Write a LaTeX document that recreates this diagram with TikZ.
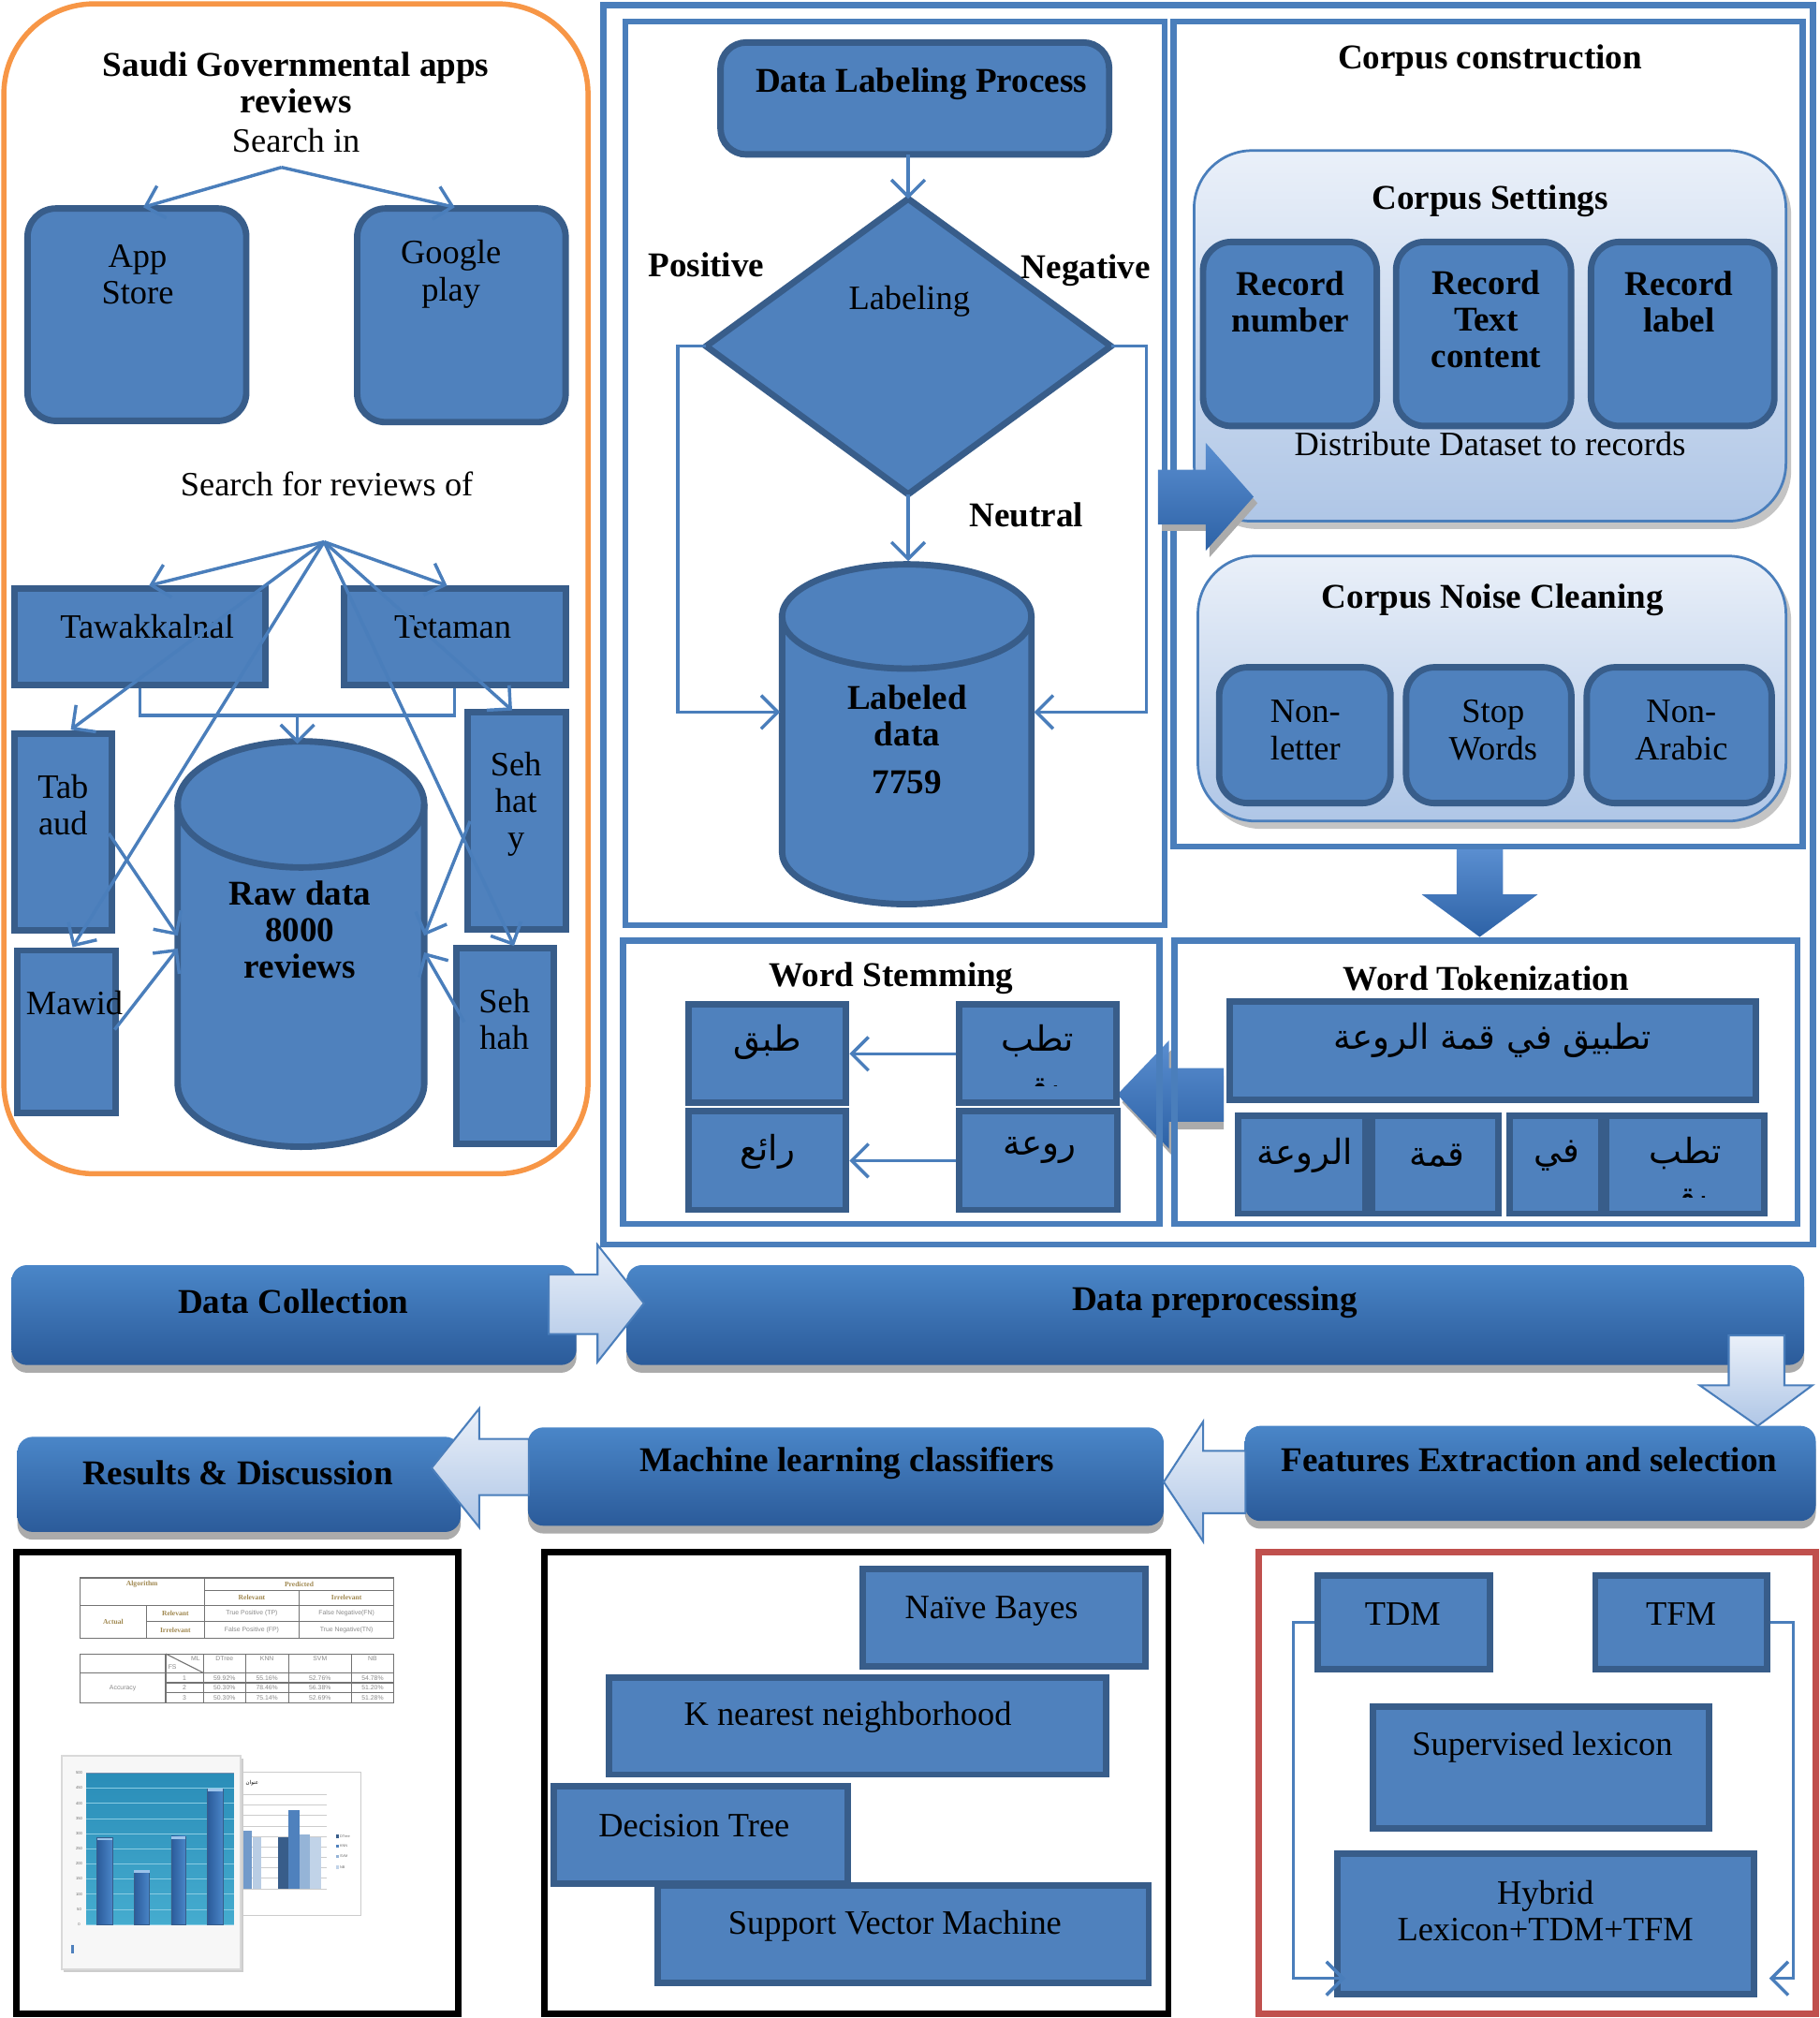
\documentclass[tikz,border=0pt]{standalone}
\usepackage{fontspec}
\setmainfont{Liberation Serif}
\newfontfamily\sansf{Liberation Sans}
\newfontfamily\arabicfont[Script=Arabic]{DejaVu Sans}
\TeXXeTstate=1
\usetikzlibrary{arrows.meta,calc,fit}
\definecolor{bfill}{HTML}{4F81BD}
\definecolor{bdark}{HTML}{385D8A}
\definecolor{bline}{HTML}{4A7EBB}
\definecolor{orng}{HTML}{F79646}
\definecolor{redb}{HTML}{C0504D}
\definecolor{barTop}{HTML}{4A86C8}
\definecolor{barBot}{HTML}{2B5B9A}
\definecolor{lightA}{HTML}{EAF0F9}
\definecolor{lightB}{HTML}{AFC6E6}
\definecolor{darkTop}{HTML}{5A8ED0}
\definecolor{darkBot}{HTML}{2D62A6}
\definecolor{shadc}{HTML}{ABABAB}
\definecolor{tanc}{HTML}{A08850}
\definecolor{tgray}{HTML}{8A8A8A}
\definecolor{plotTop}{HTML}{2A8DB8}
\definecolor{plotBot}{HTML}{45ACCF}
\definecolor{gridc}{HTML}{8ACBE2}
\definecolor{capc}{HTML}{9CC3EA}
\newcommand\drawcyl[5]{%
  \pgfmathsetmacro\cylrx{(#2-#1)/2}%
  \path[draw=bdark, fill=bfill, line width=5pt] (#1,#3) -- (#1,#4)
    arc[start angle=180,end angle=0,x radius=\cylrx,y radius=#5] -- (#2,#3)
    arc[start angle=0,end angle=-180,x radius=\cylrx,y radius=#5] -- cycle;
  \draw[bdark, line width=5pt] (#1,#3) arc[start angle=180,end angle=0,x radius=\cylrx,y radius=#5];
}
\tikzset{
  bx/.style={draw=bdark, fill=bfill, line width=5pt, inner sep=0pt},
  rbx/.style={bx, rounded corners=20pt},
  conn/.style={draw=bline, line width=2.5pt, -{Straight Barb[length=13pt,width=26pt]}},
  pconn/.style={draw=bline, line width=2.5pt},
  txt/.style={align=center, inner sep=0pt, font=\fontsize{26.5}{28.5}\selectfont},
  btxt/.style={align=center, inner sep=0pt, font=\fontsize{27}{28.5}\selectfont\bfseries},
  ar/.style={inner sep=0pt, font=\fontsize{27}{29}\selectfont\arabicfont},
  stage/.style={rounded corners=12pt, top color=barTop, bottom color=barBot},
  larrow/.style={draw=bline, line width=1.5pt, top color=lightA, bottom color=lightB, line join=miter},
  darrow/.style={top color=darkTop, bottom color=darkBot},
  bframe/.style={draw=bline, line width=5pt},
  tb/.style={inner sep=0pt, font=\fontsize{5.5}{6}\selectfont\bfseries, text=tanc},
  tv/.style={inner sep=0pt, font=\fontsize{5}{6}\selectfont\sansf, text=tgray},
  tline/.style={draw=black!55, line width=0.8pt}
}
\begin{document}
\begin{tikzpicture}[x=1pt,y=-1pt]
\useasboundingbox (0,0) rectangle (1414,1568);
\fill[white] (0,0) rectangle (1414,1568);

%%%%%%%% LEFT PANEL: DATA COLLECTION DETAIL
\draw[orng, line width=4pt, rounded corners=70pt] (3,3) rectangle (457,912);
\node[btxt] (title) at (230,64.5) {Saudi Governmental apps\\reviews};
\node[txt] (searchin) at (230,109.5) {Search in};
\coordinate (sinpt) at (218.8,130);
\node[bx, rounded corners=22pt, fit={(21.4,162)(191.4,327)}] (appstore) {};
\node[bx, rounded corners=22pt, fit={(277.6,162)(439.6,328)}] (gplay) {};
\node[txt] (appstoret) at (107,213) {App\\Store};
\node[txt] (gplayt) at (350.5,213) {Google\\play};
\coordinate (asTip) at (111.4,161);
\coordinate (gpTip) at (353.4,161);
\draw[conn] (sinpt) -- (asTip);
\draw[conn] (sinpt) -- (gpTip);

\node[txt] (sfr) at (254,376) {Search for reviews of};
\coordinate (hub) at (251.9,421);
\node[bx, fit={(11.3,457)(206.3,532)}] (tawak) {};
\node[bx, fit={(267.3,457)(439.6,532)}] (tetam) {};
\node[bx, fit={(11.3,570)(86.7,723)}] (tabaud) {};
\node[bx, fit={(13.4,738.5)(89.7,865)}] (mawid) {};
\node[bx, fit={(363.7,553.5)(439.6,722)}] (sehhaty) {};
\node[bx, fit={(354.8,737)(430.6,889)}] (sehhah) {};
\drawcyl{138.1}{329.7}{625}{842}{49}
\node[inner sep=0pt, fit={(138.1,576)(329.7,891)}] (rawdb) {};
\node[txt] (tawakt) at (114.3,487) {Tawakkalnal};
\node[txt] (tetamt) at (351.8,487) {Tetaman};
\node[txt] (tabaudt) at (49,625.6) {Tab\\aud};
\node[txt] (mawidt) at (57.9,779) {Mawid};
\node[txt] (sehhatyt) at (401,624.8) {Seh\\hat\\y};
\node[txt] (sehhaht) at (392,792) {Seh\\hah};
\node[btxt] (rawt) at (233.1,722.5) {Raw data\\8000\\reviews};

\coordinate (tawTip) at (115.8,455);
\coordinate (tetTip) at (347.5,455);
\coordinate (tabTip) at (55,567);
\coordinate (mawTip) at (56.4,736);
\coordinate (shyTip) at (398,552);
\coordinate (shhTip) at (399.4,735);
\draw[conn] (hub) -- (tawTip);
\draw[conn] (hub) -- (tetTip);
\draw[conn] (hub) -- (tabTip);
\draw[conn] (hub) -- (mawTip);
\draw[conn] (hub) -- (shyTip);
\draw[conn] (hub) -- (shhTip);
\draw[pconn] (tawak.south) -- ++(0,21.4) -| (tetam.south);
\coordinate (brM) at ($(tawak.south)!0.5!(tetam.south)+(0,21.4)$);
\draw[conn] (brM) -- ++(0,22);
\coordinate (tabOut) at (84.6,647.6);
\coordinate (rawL1) at (138.1,727);
\coordinate (mawOut) at (89.1,800);
\coordinate (rawL2) at (138.1,737);
\coordinate (shyOut) at (365.3,638);
\coordinate (rawR1) at (329.7,727);
\coordinate (shhOut) at (360.8,794);
\coordinate (rawR2) at (329.7,740);
\draw[conn] (tabOut) -- (rawL1);
\draw[conn] (mawOut) -- (rawL2);
\draw[conn] (shyOut) -- (rawR1);
\draw[conn] (shhOut) -- (rawR2);

%%%%%%%% PREPROCESSING DETAIL
\draw[bframe] (469,4) rectangle (1409,967);
\draw[bframe, line width=4.5pt] (486,17) rectangle (905,719);
\node[rbx, fit={(560,33)(862,120)}] (lbp) {};
\node[btxt] (lbpt) at (716,65) {Data Labeling Process};
\coordinate (lbpOut) at (705.8,120);
\coordinate (dTop) at (705.8,154.5);
\coordinate (dLeft) at (548.8,269);
\coordinate (dRight) at (863.4,269);
\coordinate (dBot) at (705.8,384);
\path[bx] (dTop) -- (dRight) -- (dBot) -- (dLeft) -- cycle;
\node[txt] (labelingt) at (706.7,234) {Labeling};
\node[btxt] (post) at (548.8,205.5) {Positive};
\node[btxt] (negt) at (844,210) {Negative};
\node[btxt] (neut) at (797.6,400) {Neutral};
\drawcyl{607.8}{801.6}{479}{662}{40.5}
\node[inner sep=0pt, fit={(607.8,438.5)(801.6,702.5)}] (labdb) {};
\node[btxt] (labdbt) at (705,556) {Labeled\\data};
\node[btxt] (labdbn) at (705,607.6) {7759};
\coordinate (labL) at (606.3,553.3);
\coordinate (labR) at (803.7,553.3);
\coordinate (labTopIn) at (705.8,436);
\draw[conn] (lbpOut) -- (dTop);
\draw[conn] (dBot) -- (labTopIn);
\draw[conn] (dLeft) -- ++(-22,0) |- (labL);
\draw[conn] (dRight) -- ++(27.6,0) |- (labR);

% corpus construction
\draw[bframe, line width=4.5pt] (912,17) rectangle (1401,658);
\node[btxt] (cct) at (1158,47) {Corpus construction};
\fill[shadc!70, rounded corners=45pt] (932,122) rectangle (1392,411);
\node[fit={(928,117)(1388,405)}, inner sep=0pt, draw=bline, line width=2pt, top color=lightA, bottom color=lightB, rounded corners=45pt] (cset) {};
\node[btxt] (csett) at (1158,156) {Corpus Settings};
\node[rbx, rounded corners=22pt, fit={(935,188)(1070,331)}] (rnum) {};
\node[rbx, rounded corners=22pt, fit={(1085,188)(1221,331)}] (rtext) {};
\node[rbx, rounded corners=22pt, fit={(1236.5,188)(1379,331)}] (rlab) {};
\node[btxt] (rnumt) at (1003,234.3) {Record\\number};
\node[btxt] (rtextt) at (1155,248.2) {Record\\Text\\content};
\node[btxt] (rlabt) at (1305,234.3) {Record\\label};
\node[txt] (distt) at (1158,345) {Distribute Dataset to records};
\fill[shadc!70, rounded corners=45pt] (935,437) rectangle (1392,644);
\node[fit={(931,432)(1388,638)}, inner sep=0pt, draw=bline, line width=2pt, top color=lightA, bottom color=lightB, rounded corners=45pt] (cnoise) {};
\node[btxt] (cnoiset) at (1160,466.5) {Corpus Noise Cleaning};
\node[rbx, rounded corners=22pt, fit={(947.5,518.5)(1080.7,624)}] (nl) {};
\node[rbx, rounded corners=22pt, fit={(1092.8,518.5)(1221.2,624)}] (sw) {};
\node[rbx, rounded corners=22pt, fit={(1233.2,518.5)(1376.9,624)}] (na) {};
\node[txt] (nlt) at (1014.5,567.3) {Non-\\letter};
\node[txt] (swt) at (1160.4,567.3) {Stop\\Words};
\node[txt] (nat) at (1306.7,567.3) {Non-\\Arabic};

% dark block arrows
\fill[shadc] (903,370) -- (940,370) -- (940,349) -- (977.3,391) -- (940,433) -- (940,412.5) -- (903,412.5) -- cycle;
\path[darrow] (900,365) -- (937,365) -- (937,344) -- (974.3,386) -- (937,428) -- (937,407.5) -- (900,407.5) -- cycle;
\path[darrow] (1132,660) -- (1168,660) -- (1168,695) -- (1195,695) -- (1150,728) -- (1105,695) -- (1132,695) -- cycle;
\fill[shadc] (951,836) -- (911.5,836) -- (911.5,814.5) -- (872,856.5) -- (911.5,898.5) -- (911.5,877.5) -- (951,877.5) -- cycle;
\path[darrow] (951,830) -- (908.5,830) -- (908.5,808.5) -- (868.3,850.5) -- (908.5,892.5) -- (908.5,871.5) -- (951,871.5) -- cycle;

% word tokenization
\draw[bframe] (913,731) rectangle (1397,951);
\node[btxt] (wtt) at (1155,760) {Word Tokenization};
\node[bx, fit={(955.7,778.2)(1364.8,854.5)}] (sent) {};
\node[ar] (sentt) at (1160,808.5) {\beginR تطبيق في قمة الروعة\endR};
\node[bx, fit={(962.2,866.7)(1061.1,943)}] (tk1) {};
\node[bx, fit={(1066,866.7)(1164.6,943)}] (tk2) {};
\node[bx, fit={(1173.4,866.7)(1244.6,943)}] (tk3) {};
\node[bx, fit={(1248.5,866.7)(1371.3,943)}] (tk4) {};
\node[ar] (tk1t) at (1014,898) {\beginR الروعة\endR};
\node[ar] (tk2t) at (1117,898) {\beginR قمة\endR};
\node[ar] (tk3t) at (1210,898) {\beginR في\endR};
\node[ar] (tk4t) at (1309.9,896) {\beginR تطب\endR};
\begin{scope}
\clip (1252,914) rectangle (1368,930);
\node[ar] (tk4b) at (1313,934) {\beginR يق\endR};
\end{scope}

% word stemming
\draw[bframe] (484,731) rectangle (901,951);
\node[btxt] (wst) at (692.8,760) {Word Stemming};
\node[bx, fit={(535.2,780.6)(657.7,857)}] (s1) {};
\node[bx, fit={(745.2,780.6)(867.7,857)}] (s2) {};
\node[bx, fit={(535.2,863.5)(657.7,940.1)}] (s3) {};
\node[bx, fit={(745.2,863.5)(868.3,940.1)}] (s4) {};
\node[ar] (s1t) at (596.5,810) {\beginR طبق\endR};
\node[ar] (s2t) at (806.4,809) {\beginR تطب\endR};
\begin{scope}
\clip (748,828) rectangle (865,844);
\node[ar] (s2b) at (809,848) {\beginR يق\endR};
\end{scope}
\node[ar] (s3t) at (596.5,894.8) {\beginR رائع\endR};
\node[ar] (s4t) at (807.9,893.5) {\beginR روعة\endR};
\draw[conn] (s2.west) -- (s1.east);
\draw[conn] (s4.west) -- (s3.east);

%%%%%%%% STAGE BARS
\fill[shadc, rounded corners=12pt] (9,989) rectangle (448,1066.6);
\node[stage, inner sep=0pt, fit={(9,983)(448,1060.6)}] (dcol) {};
\node[btxt] (dcolt) at (228,1011) {Data Collection};
\fill[shadc, rounded corners=12pt] (486.9,989) rectangle (1402.2,1066.6);
\node[stage, inner sep=0pt, fit={(486.9,983)(1402.2,1060.6)}] (dpre) {};
\node[btxt] (dpret) at (944,1012) {Data preprocessing};
\fill[shadc, rounded corners=12pt] (967.5,1113.9) rectangle (1411.2,1187.8);
\node[stage, inner sep=0pt, fit={(967.5,1107.9)(1411.2,1181.8)}] (fext) {};
\node[btxt] (fextt) at (1188.5,1134.5) {Features Extraction and selection};
\fill[shadc, rounded corners=12pt] (410.3,1115.1) rectangle (904.4,1191.5);
\node[stage, inner sep=0pt, fit={(410.3,1109.1)(904.4,1185.5)}] (mlc) {};
\node[btxt] (mlct) at (658.3,1137) {Machine learning classifiers};
\fill[shadc, rounded corners=12pt] (13.5,1122.4) rectangle (358,1196.3);
\node[stage, inner sep=0pt, fit={(13.5,1116.4)(358,1190.3)}] (resd) {};
\node[btxt] (resdt) at (184.9,1144.2) {Results \& Discussion};

% light arrows
\path[larrow] (426.5,990.3) -- (464.4,990.3) -- (464.4,967.3) -- (500.5,1012.7) -- (464.4,1058.2) -- (464.4,1036.6) -- (426.5,1036.6) -- cycle;
\path[larrow] (1343.5,1037.6) -- (1386.8,1037.6) -- (1386.8,1076.4) -- (1408.5,1076.4) -- (1366,1108) -- (1321,1076.4) -- (1343.5,1076.4) -- cycle;
\path[larrow] (968,1127.3) -- (935,1127.3) -- (935,1104.7) -- (904.4,1151.5) -- (935,1197.6) -- (935,1175.8) -- (968,1175.8) -- cycle;
\path[larrow] (411,1118) -- (372.4,1118) -- (372.4,1094.5) -- (335.4,1140.6) -- (372.4,1186.7) -- (372.4,1161.7) -- (411,1161.7) -- cycle;

%%%%%%%% RESULTS BOX
\draw[black, line width=5pt] (13,1206) rectangle (356,1565);
% table 1
\draw[tline] (62,1226) rectangle (306,1273);
\draw[tline] (158.9,1235.7) -- (306,1235.7);
\draw[tline] (62,1247.4) -- (306,1247.4);
\draw[tline] (113.8,1259.8) -- (306,1259.8);
\draw[tline] (113.8,1247.4) -- (113.8,1273);
\draw[tline] (158.9,1226) -- (158.9,1273);
\draw[tline] (232.6,1235.7) -- (232.6,1273);
\node[tb] (t1a) at (110.4,1231) {Algorithm};
\node[tb] (t1b) at (232.5,1230.8) {Predicted};
\node[tb] (t1c) at (195.7,1241.5) {Relevant};
\node[tb] (t1d) at (269.3,1241.5) {Irrelevant};
\node[tb] (t1e) at (88,1260.2) {Actual};
\node[tb] (t1f) at (136.3,1253.6) {Relevant};
\node[tb] (t1g) at (136.3,1266.4) {Irrelevant};
\node[tv] (t1h) at (195.7,1253.6) {True Positive (TP)};
\node[tv] (t1i) at (269.3,1253.6) {False Negative(FN)};
\node[tv] (t1j) at (195.7,1266.4) {False Positive (FP)};
\node[tv] (t1k) at (269.3,1266.4) {True Negative(TN)};
% table 2
\draw[tline] (62,1285) rectangle (306,1323);
\draw[tline] (62,1299.8) -- (306,1299.8);
\draw[tline] (128.8,1307.5) -- (306,1307.5);
\draw[tline] (128.8,1315.4) -- (306,1315.4);
\foreach \xx in {128.8,158.1,190.9,224.2,273.2} \draw[tline] (\xx,1285) -- (\xx,1323);
\draw[tline] (128.8,1285) -- (158.1,1299.8);
\node[tv] (t2ml) at (152,1288.5) {ML};
\node[tv] (t2fs) at (134,1295.5) {FS};
\node[tv] (t2h1) at (174.5,1289) {DTree};
\node[tv] (t2h2) at (207.5,1289) {KNN};
\node[tv] (t2h3) at (248.7,1289) {SVM};
\node[tv] (t2h4) at (289.6,1289) {NB};
\node[tv] (t2acc) at (95.4,1311.4) {Accuracy};
\node[tv] (t2r1) at (143.4,1303.6) {1};
\node[tv] (t2r2) at (143.4,1311.4) {2};
\node[tv] (t2r3) at (143.4,1319.2) {3};
\node[tv] (v11) at (174.5,1303.6) {59.92\%};
\node[tv] (v12) at (207.5,1303.6) {55.16\%};
\node[tv] (v13) at (248.7,1303.6) {52.76\%};
\node[tv] (v14) at (289.6,1303.6) {54.78\%};
\node[tv] (v21) at (174.5,1311.4) {50.30\%};
\node[tv] (v22) at (207.5,1311.4) {78.46\%};
\node[tv] (v23) at (248.7,1311.4) {56.38\%};
\node[tv] (v24) at (289.6,1311.4) {51.20\%};
\node[tv] (v31) at (174.5,1319.2) {50.30\%};
\node[tv] (v32) at (207.5,1319.2) {75.14\%};
\node[tv] (v33) at (248.7,1319.2) {52.69\%};
\node[tv] (v34) at (289.6,1319.2) {51.28\%};
% chart 2
\path[draw=black!20, line width=0.8pt, fill=white] (187,1377) rectangle (280.6,1488.5);
\foreach \i in {0,...,9} \draw[black!20, line width=0.5pt] (189,{1394.4+\i*8.13}) -- (254.2,{1394.4+\i*8.13});
\fill[bfill!80] (189.4,1422.7) rectangle (195.4,1467.6);
\fill[bfill!40] (196.1,1427.5) rectangle (202.8,1467.6);
\fill[bdark] (215.8,1427.5) rectangle (224.2,1467.6);
\fill[bfill] (224.2,1406.4) rectangle (232.6,1467.6);
\fill[bfill!60] (232.6,1425.1) rectangle (241,1467.6);
\fill[bfill!35] (241,1427.5) rectangle (249.4,1467.6);
\node[inner sep=0pt, font=\fontsize{4}{4}\selectfont\arabicfont] (c2t) at (196,1385.5) {\beginR عنوان\endR};
\foreach \yy/\cc/\ll [count=\k] in {1426.8/bdark/DTree,1434.5/bfill/KNN,1442.4/bfill!60/SVM,1450.8/bfill!35/NB}{
  \fill[\cc] (261,{\yy-1.2}) rectangle (263.4,{\yy+1.2});
  \node[anchor=west, inner sep=0pt, font=\fontsize{2.8}{3}\selectfont\sansf, text=black!60] (lg\k) at (264,\yy) {\ll};
}
% chart 1
\fill[shadc!60] (49.8,1366.4) rectangle (189,1532);
\path[draw=black!15, line width=1.5pt, fill=black!3] (47.8,1364.4) rectangle (187,1530);
\path[top color=plotTop, bottom color=plotBot] (67,1377.6) rectangle (181.7,1495.3);
\draw[bdark!70, line width=1pt] (67,1377.6) -- (181.7,1377.6);
\foreach \i in {1,...,10} \draw[gridc, line width=0.5pt] (67,{1377.6+\i*11.77}) -- (181.7,{1377.6+\i*11.77});
\foreach \xa/\xb/\tp in {75.4/87.4/1428, 104.2/116.2/1453.2, 133/144.3/1426.8, 161.3/173.3/1390}{
  \path[left color=barBot, right color=barTop, draw=bdark, line width=0.4pt] (\xa,\tp) rectangle (\xb,1495.3);
  \fill[capc] (\xa,\tp) rectangle (\xb,{\tp+2});
}
\foreach \v [count=\i from 0] in {500,450,400,350,300,250,200,150,100,50,0}
  \node[inner sep=0pt, font=\fontsize{3}{3}\selectfont\sansf, text=black!60] (yl\i) at (61.5,{1377.6+\i*11.77}) {\v};
\fill[bfill] (55,1511) rectangle (57.5,1517.5);

%%%%%%%% ML BOX
\draw[black, line width=5pt] (423,1206) rectangle (908,1565);
\node[bx, fit={(670.3,1219.2)(890.2,1294.8)}] (nb) {};
\node[bx, fit={(473.1,1303.2)(859.5,1378.8)}] (knn) {};
\node[bx, fit={(430.4,1387.7)(659,1463.3)}] (dt) {};
\node[bx, fit={(511.3,1465.2)(892.8,1540.8)}] (svm) {};
\node[txt] (nbt) at (770.6,1251.6) {Naïve Bayes};
\node[txt] (knnt) at (658.9,1334.4) {K nearest neighborhood};
\node[txt] (dtt) at (539.4,1418.4) {Decision Tree};
\node[txt] (svmt) at (695.5,1496.4) {Support Vector Machine};

%%%%%%%% FEATURES BOX
\draw[redb, line width=5pt] (978,1206) rectangle (1411,1565);
\node[bx, fit={(1024,1224)(1157.8,1297.2)}] (tdm) {};
\node[bx, fit={(1239.8,1224)(1373.6,1297.2)}] (tfm) {};
\node[bx, fit={(1067.2,1326)(1328.1,1420.8)}] (suplex) {};
\node[bx, fit={(1039.3,1440.5)(1363,1549.2)}] (hyb) {};
\node[txt] (tdmt) at (1090.2,1254) {TDM};
\node[txt] (tfmt) at (1306.5,1254) {TFM};
\node[txt] (suplext) at (1198.7,1357.2) {Supervised lexicon};
\node[txt] (hybt) at (1201,1485) {Hybrid\\Lexicon+TDM+TFM};
\coordinate (fL) at (1005.3,1537.2);
\coordinate (hybInL) at (1045.6,1537.2);
\coordinate (fR) at (1393.7,1537.2);
\coordinate (hybInR) at (1375,1537.2);
\draw[conn] (tdm.west) -| (fL) -- (hybInL);
\draw[conn] (tfm.east) -| (fR) -- (hybInR);
\end{tikzpicture}
\end{document}
